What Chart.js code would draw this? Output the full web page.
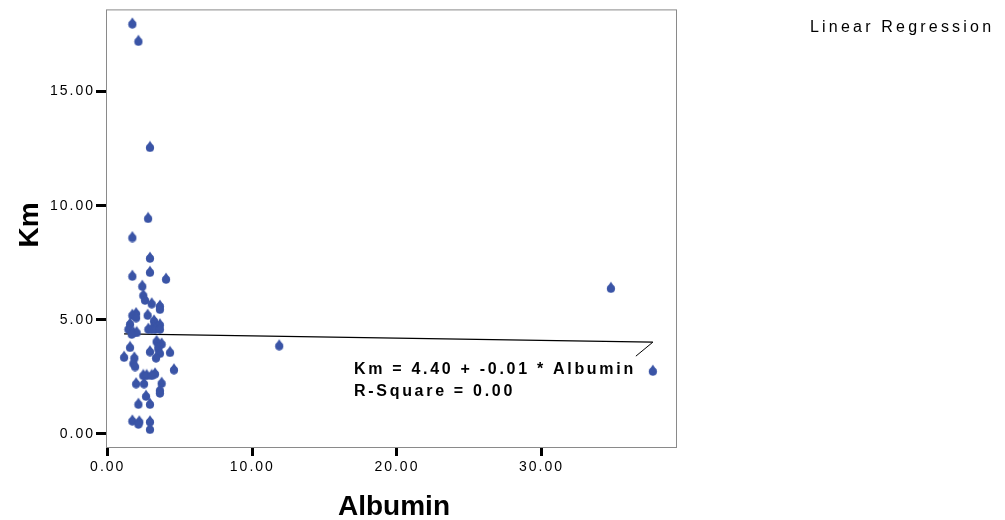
<!DOCTYPE html>
<html>
<head>
<meta charset="utf-8">
<script src="https://cdn.jsdelivr.net/npm/chart.js@4/dist/chart.umd.min.js"></script>
<style>
  html, body { margin: 0; padding: 0; background: #fff; }
  #wrap { width: 1005px; height: 520px; }
</style>
</head>
<body>
<div id="wrap"><canvas id="canvas" width="1005" height="520"></canvas></div>
<script>
// data
const albumin = [1.70, 2.12, 2.92, 2.79, 1.70, 2.92, 1.70, 2.92, 4.03, 2.39,
  2.46, 2.58, 3.04, 3.61, 3.61, 1.96, 1.70, 1.96, 2.76, 3.20,
  1.54, 3.27, 3.61, 1.43, 2.81, 3.04, 3.27, 3.61, 1.77, 2.00,
  1.66, 3.38, 3.73, 3.50, 1.54, 3.50, 2.92, 4.31, 3.61, 1.13,
  1.84, 3.34, 1.77, 1.89, 4.58, 2.46, 2.69, 3.27, 3.04, 1.96,
  2.51, 3.73, 3.61, 3.61, 2.65, 2.12, 2.92, 1.70, 2.18, 2.12,
  2.92, 2.92, 11.86, 34.8, 37.7];
const km = [18.01, 17.25, 12.60, 9.49, 8.65, 7.75, 6.96, 7.13, 6.83, 6.52,
  6.12, 5.91, 5.75, 5.65, 5.51, 5.32, 5.25, 5.14, 5.25, 5.00,
  4.86, 4.86, 4.83, 4.64, 4.64, 4.64, 4.64, 4.64, 4.49, 4.49,
  4.42, 4.10, 3.99, 3.91, 3.84, 3.77, 3.65, 3.62, 3.58, 3.41,
  3.38, 3.38, 3.14, 3.00, 2.86, 2.61, 2.61, 2.68, 2.61, 2.25,
  2.25, 2.27, 1.96, 1.84, 1.70, 1.35, 1.35, 0.62, 0.58, 0.48,
  0.58, 0.25, 3.91, 6.43, 2.80];
const xTicks = [0, 10, 20, 30];
const yTicks = [0, 5, 10, 15];
const intercept = 4.40;
const slope = -0.01;

const points = albumin.map((v, i) => ({ x: v, y: km[i] }));
const xLo = Math.min(...albumin), xHi = Math.max(...albumin);
const fitLine = [
  { x: xLo, y: intercept + slope * xLo },
  { x: xHi, y: intercept + slope * xHi }
];

// teardrop marker like the SPSS one
const drop = document.createElement('canvas');
drop.width = 10; drop.height = 12;
(function () {
  const c = drop.getContext('2d');
  c.fillStyle = '#3a54a6';
  c.beginPath();
  c.arc(5, 7.6, 4.1, 0, Math.PI * 2);
  c.fill();
  c.beginPath();
  c.moveTo(5, 0.6);
  c.lineTo(1.3, 6);
  c.lineTo(8.7, 6);
  c.closePath();
  c.fill();
})();

const FONT = 'Liberation Sans, Arial, sans-serif';

const extras = {
  id: 'extras',
  beforeDraw(chart) {
    chart.ctx.letterSpacing = '2px';
  },
  afterDraw(chart) {
    const { ctx, chartArea: a, scales } = chart;
    ctx.save();
    // plot frame
    ctx.strokeStyle = '#8a8a8a';
    ctx.lineWidth = 1;
    ctx.strokeRect(a.left + 0.5, a.top + 0.5, a.right - a.left, a.bottom - a.top);

    ctx.fillStyle = '#000';
    // axis titles
    ctx.letterSpacing = '0px';
    ctx.font = 'bold 28px ' + FONT;
    ctx.textAlign = 'center';
    ctx.textBaseline = 'alphabetic';
    ctx.fillText('Albumin', 394, 515);
    ctx.save();
    ctx.translate(38, 225);
    ctx.rotate(-Math.PI / 2);
    ctx.fillText('Km', 0, 0);
    ctx.restore();

    // legend text
    ctx.font = '16px ' + FONT;
    ctx.letterSpacing = '3.2px';
    ctx.textAlign = 'left';
    ctx.fillText('Linear Regression', 810, 32);

    // leader from fit line end to equation
    const ex = scales.x.getPixelForValue(xHi);
    const ey = scales.y.getPixelForValue(intercept + slope * xHi);
    ctx.strokeStyle = '#000';
    ctx.beginPath();
    ctx.moveTo(ex, ey);
    ctx.lineTo(ex - 17, ey + 14);
    ctx.stroke();

    ctx.font = 'bold 16px ' + FONT;
    ctx.letterSpacing = '2.7px';
    ctx.fillText('Km = 4.40 + -0.01 * Albumin', 354, 374);
    ctx.fillText('R-Square = 0.00', 354, 396);
    ctx.restore();
  }
};

const tickFont = { family: FONT, size: 14 };

new Chart(document.getElementById('canvas'), {
  data: {
    datasets: [
      {
        type: 'scatter',
        data: points,
        pointStyle: drop,
        pointRadius: 5
      },
      {
        type: 'line',
        data: fitLine,
        borderColor: '#000',
        borderWidth: 1.2,
        pointRadius: 0,
        fill: false
      }
    ]
  },
  options: {
    responsive: false,
    animation: false,
    events: [],
    layout: { padding: { top: 7, right: 329, left: 0, bottom: 0 } },
    plugins: { legend: { display: false }, tooltip: { enabled: false } },
    scales: {
      x: {
        type: 'linear',
        min: -0.12,
        max: 39.3,
        afterFit(s) { s.height = 73; },
        afterBuildTicks(s) { s.ticks = xTicks.map(v => ({ value: v })); },
        grid: { drawOnChartArea: false, tickLength: 9, tickWidth: 3, tickColor: '#000' },
        border: { display: false },
        ticks: { color: '#000', font: tickFont, padding: 3, maxRotation: 0,
          callback: v => v.toFixed(2) }
      },
      y: {
        type: 'linear',
        min: -0.57,
        max: 18.6,
        afterFit(s) { s.width = 106; },
        afterBuildTicks(s) { s.ticks = yTicks.map(v => ({ value: v })); },
        grid: { drawOnChartArea: false, tickLength: 10, tickWidth: 3, tickColor: '#000' },
        border: { display: false },
        ticks: { color: '#000', font: tickFont, padding: 1,
          callback: v => v.toFixed(2) }
      }
    }
  },
  plugins: [extras]
});
</script>
</body>
</html>
